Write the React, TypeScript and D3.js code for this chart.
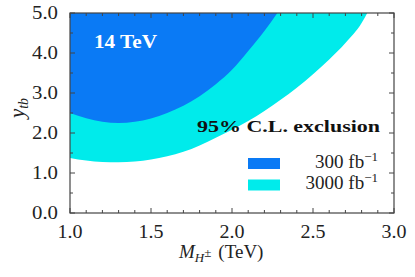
import React from "react";
import * as d3 from "d3";

// 300 fb^-1 exclusion boundary (region above is excluded)
const lumi300Mass = [1.0, 1.1, 1.2, 1.3, 1.4, 1.5, 1.6, 1.7, 1.8, 1.9, 2.0, 2.1, 2.2, 2.28];
const lumi300Ytb = [2.5, 2.37, 2.28, 2.25, 2.28, 2.36, 2.5, 2.68, 2.92, 3.22, 3.58, 4.05, 4.55, 5.0];

// 3000 fb^-1 exclusion boundary
const lumi3000Mass = [1.0, 1.1, 1.2, 1.3, 1.4, 1.5, 1.6, 1.7, 1.8, 1.9, 2.0, 2.1, 2.2, 2.3, 2.4, 2.5, 2.6, 2.7, 2.8, 2.835];
const lumi3000Ytb = [1.375, 1.31, 1.275, 1.27, 1.29, 1.34, 1.42, 1.53, 1.69, 1.88, 2.08, 2.3, 2.55, 2.83, 3.13, 3.47, 3.84, 4.25, 4.75, 5.0];

const xTicks = [1.0, 1.5, 2.0, 2.5, 3.0];
const yTicks = [0, 1, 2, 3, 4, 5];

const seriesColors = { lumi300: "#0a7af5", lumi3000: "#00ebeb" };
const font = "'Liberation Serif', serif";

export default function App() {
  const width = 415;
  const height = 277;
  const margin = { top: 13, right: 21, bottom: 64, left: 70 };
  const plotW = width - margin.left - margin.right;
  const plotH = height - margin.top - margin.bottom;

  const x = d3.scaleLinear().domain([1, 3]).range([0, plotW]);
  const y = d3.scaleLinear().domain([0, 5]).range([plotH, 0]);

  const area = d3
    .area<[number, number]>()
    .x((d) => x(d[0]))
    .y0(y(5))
    .y1((d) => y(d[1]))
    .curve(d3.curveMonotoneX);

  const pts300 = lumi300Mass.map((m, i) => [m, lumi300Ytb[i]] as [number, number]);
  const pts3000 = lumi3000Mass.map((m, i) => [m, lumi3000Ytb[i]] as [number, number]);

  const xMinor = d3.range(10, 31).map((v) => v / 10);
  const yMinor = d3.range(0, 11).map((v) => v / 2);
  const major = 5;
  const minor = 3;
  const axisColor = "#444";

  return (
    <svg width={width} height={height} style={{ position: "absolute", left: 0, top: 0 }} fontFamily={font}>
      <defs>
        <clipPath id="plot">
          <rect x={0} y={0} width={plotW} height={plotH} />
        </clipPath>
      </defs>
      <g transform={`translate(${margin.left},${margin.top})`}>
        <g clipPath="url(#plot)">
          <path d={area(pts3000) ?? ""} fill={seriesColors.lumi3000} />
          <path d={area(pts300) ?? ""} fill={seriesColors.lumi300} />
        </g>

        {/* ticks on all four sides, pointing inward */}
        {xMinor.map((v) => {
          const len = Math.abs(v * 2 - Math.round(v * 2)) < 1e-6 ? major : minor;
          return (
            <g key={"x" + v}>
              <line x1={x(v)} x2={x(v)} y1={plotH} y2={plotH - len} stroke={axisColor} />
              <line x1={x(v)} x2={x(v)} y1={0} y2={len} stroke={axisColor} />
            </g>
          );
        })}
        {yMinor.map((v) => {
          const len = Number.isInteger(v) ? major : minor;
          return (
            <g key={"y" + v}>
              <line x1={0} x2={len} y1={y(v)} y2={y(v)} stroke={axisColor} />
              <line x1={plotW} x2={plotW - len} y1={y(v)} y2={y(v)} stroke={axisColor} />
            </g>
          );
        })}
        <rect x={0} y={0} width={plotW} height={plotH} fill="none" stroke={axisColor} strokeWidth={1.2} />

        {/* tick labels */}
        {xTicks.map((v) => (
          <text key={v} x={x(v) - 12.5} y={plotH + 24.5} fontSize={18} fill="#222" textLength={25} lengthAdjust="spacingAndGlyphs">
            {v.toFixed(1)}
          </text>
        ))}
        {yTicks.map((v) => (
          <text key={v} x={-38} y={y(v)} dy="0.35em" fontSize={18.5} fill="#222" textLength={26} lengthAdjust="spacingAndGlyphs">
            {v.toFixed(1)}
          </text>
        ))}

        {/* axis titles */}
        <text x={x(2) - 53} y={plotH + 45} fontSize={19} fill="#222">
          <tspan fontStyle="italic">M</tspan>
          <tspan fontStyle="italic" fontSize={13} dy={4}>H</tspan>
          <tspan fontSize={13} dy={-5}>±</tspan>
          <tspan dy={1} dx={7}>(TeV)</tspan>
        </text>
        <text transform={`translate(-46,${plotH / 2 - 5}) rotate(-90)`} textAnchor="middle" fontSize={21} fill="#222">
          <tspan fontStyle="italic">y</tspan>
          <tspan fontStyle="italic" fontSize={14} dy={4}>tb</tspan>
        </text>

        {/* annotations */}
        <text x={24} y={35} fontSize={18} fontWeight="bold" fill="#fff" textLength={63} lengthAdjust="spacingAndGlyphs">
          14 TeV
        </text>
        <text x={127} y={118.5} fontSize={17.5} fontWeight="bold" fill="#111" textLength={183} lengthAdjust="spacingAndGlyphs">
          95% C.L. exclusion
        </text>

        {/* legend */}
        {[
          { label: "300", color: seriesColors.lumi300 },
          { label: "3000", color: seriesColors.lumi3000 },
        ].map((d, i) => (
          <g key={d.label} transform={`translate(0,${150 + i * 21.5})`}>
            <rect x={178} y={-5} width={32} height={11} fill={d.color} />
            <text x={308} y={4.5} textAnchor="end" fontSize={19} fill="#222">
              {d.label} fb
              <tspan fontSize={13} dy={-7}>−1</tspan>
            </text>
          </g>
        ))}
      </g>
    </svg>
  );
}
